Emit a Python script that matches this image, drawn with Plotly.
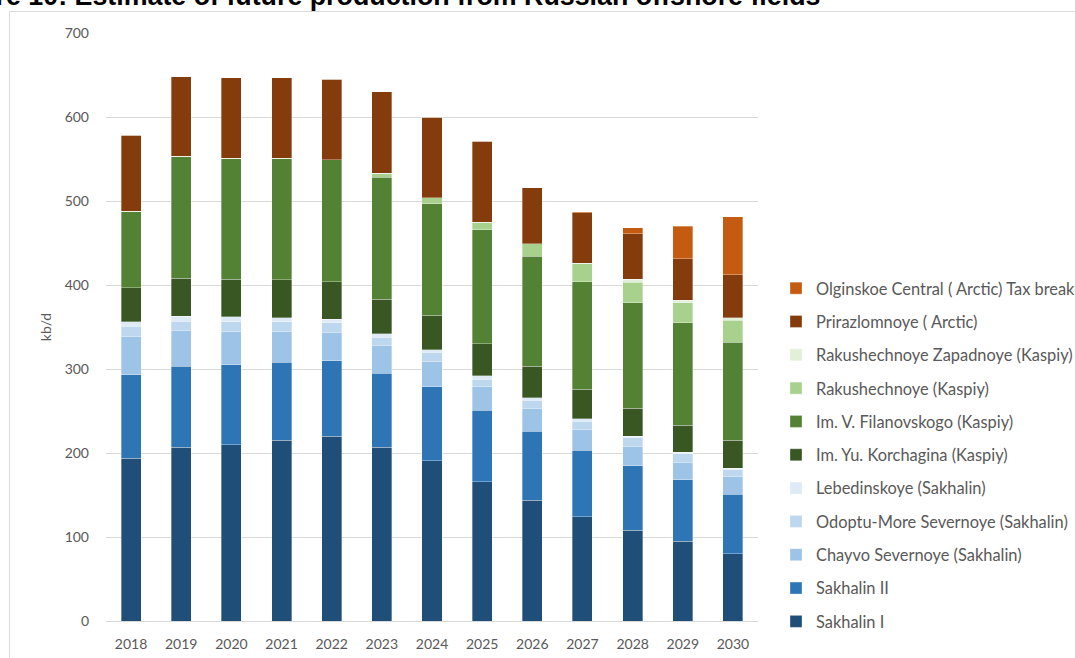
import plotly.graph_objects as go

years = ["2018", "2019", "2020", "2021", "2022", "2023", "2024",
         "2025", "2026", "2027", "2028", "2029", "2030"]

sakhalin_1 = [194, 207, 210, 215, 220, 207, 191, 166, 144, 124, 108, 95, 80]
sakhalin_2 = [99, 96, 95, 93, 90, 88, 88, 85, 82, 79, 77, 73, 71]
chayvo = [46, 43, 40, 37, 34, 33, 30, 28, 27, 25, 23, 21, 21]
odoptu = [12, 11, 11, 11, 11, 10, 11, 9, 10, 10, 10, 10, 8]
lebedinskoye = [5, 6, 6, 5, 4, 4, 3, 4, 3, 3, 2, 2, 2]
korchagina = [41, 45, 45, 45, 45, 41, 41, 38, 37, 35, 33, 32, 33]
filanovskogo = [91, 145, 144, 145, 145, 145, 133, 136, 131, 128, 126, 122, 117]
rakushechnoye = [0, 0, 0, 0, 0, 5, 7, 9, 15, 22, 24, 24, 26]
rakushechnoye_zap = [0, 0, 0, 0, 0, 0, 0, 0, 0, 0, 4, 3, 3]
prirazlomnoye = [90, 95, 96, 96, 96, 97, 96, 96, 67, 60, 54, 49, 51]
olginskoe = [0, 0, 0, 0, 0, 0, 0, 0, 0, 1, 7, 39, 69]

series = [
    ("Sakhalin I", sakhalin_1, "#1F4E79"),
    ("Sakhalin II", sakhalin_2, "#2E75B6"),
    ("Chayvo Severnoye (Sakhalin)", chayvo, "#9DC3E6"),
    ("Odoptu-More Severnoye (Sakhalin)", odoptu, "#BDD7EE"),
    ("Lebedinskoye (Sakhalin)", lebedinskoye, "#DEEBF7"),
    ("Im. Yu. Korchagina (Kaspiy)", korchagina, "#385723"),
    ("Im. V. Filanovskogo (Kaspiy)", filanovskogo, "#548235"),
    ("Rakushechnoye (Kaspiy)", rakushechnoye, "#A9D18E"),
    ("Rakushechnoye Zapadnoye (Kaspiy)", rakushechnoye_zap, "#E2F0D9"),
    ("Prirazlomnoye ( Arctic)", prirazlomnoye, "#843C0C"),
    ("Olginskoe Central ( Arctic) Tax breaks", olginskoe, "#C55A11"),
]

W, H = 1075, 658
L, R, T, B = 106, 758, 33, 621


def px(x):
    return (x - L) / (R - L)


def py(y):
    return (B - y) / (B - T)


fig = go.Figure()
n = len(series)
for i, (name, vals, col) in enumerate(series):
    fig.add_trace(go.Bar(
        x=years, y=vals, name=name, legendgroup=f"g{i}", legendrank=100 + (n - i),
        marker=dict(color=col, line=dict(color="rgba(255,255,255,0.55)", width=0.6)),
    ))

font_family = "Lato, 'Open Sans', sans-serif"
txt_col = "#595959"

fig.update_layout(
    width=W, height=H, autosize=False,
    margin=dict(l=L, r=W - R, t=T, b=H - B, autoexpand=False),
    paper_bgcolor="white", plot_bgcolor="white",
    barmode="stack", bargap=0.6,
    font=dict(family=font_family, size=14, color=txt_col),
    showlegend=True,
    legend=dict(
        x=px(776), xanchor="left", y=py(271), yanchor="top",
        traceorder="grouped", tracegroupgap=9,
        font=dict(size=16.4, color=txt_col, family=font_family),
        itemwidth=30, bgcolor="rgba(0,0,0,0)",
    ),
    xaxis=dict(showgrid=False, showline=False, ticks="", automargin=False,
               tickfont=dict(size=14, color=txt_col), ticklabelstandoff=13),
    yaxis=dict(range=[0, 700], dtick=100, showgrid=True, gridcolor="#d9d9d9",
               gridwidth=1, zeroline=True, zerolinecolor="#d9d9d9", zerolinewidth=1,
               showline=False, ticks="", automargin=False,
               tickfont=dict(size=14, color=txt_col),
               ticklabelstandoff=16,
               title=dict(text="kb/d", font=dict(size=14, color=txt_col), standoff=9)),
    shapes=[
        dict(type="rect", xref="paper", yref="paper",
             x0=px(9.5), x1=px(1200), y0=py(800), y1=py(11.5),
             line=dict(color="#d9d9d9", width=1), fillcolor="rgba(0,0,0,0)", layer="below"),
    ],
    annotations=[
        dict(text="<b>Figure 10: Estimate of future production from Russian offshore fields</b>",
             xref="paper", yref="paper", x=px(-63), y=py(12.7), xanchor="left", yanchor="bottom",
             showarrow=False, font=dict(family="Liberation Sans, Arial, sans-serif", size=26.8, color="#000000")),
    ],
)

fig.write_html("out.html", config={"displayModeBar": False},
               post_script="document.body.style.margin='0';")
